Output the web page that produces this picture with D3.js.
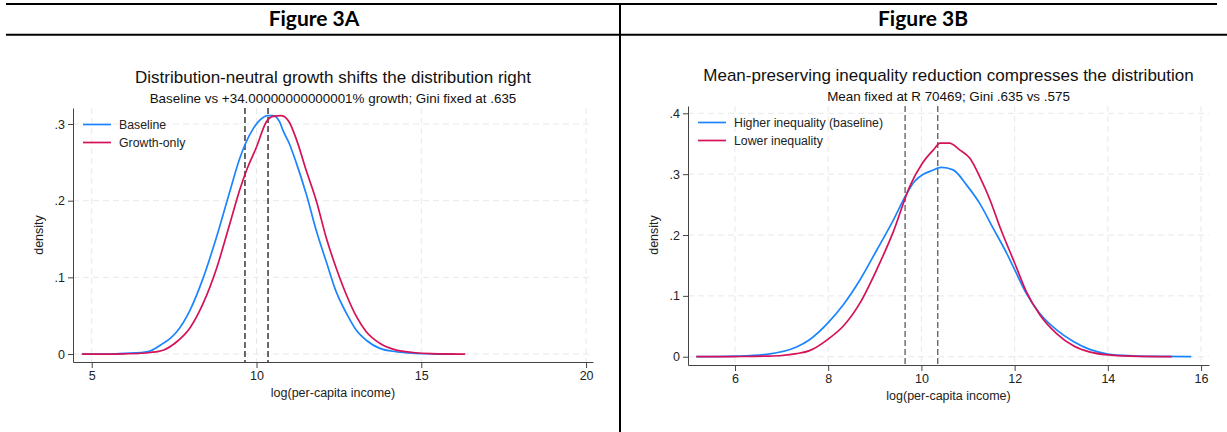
<!DOCTYPE html>
<html>
<head>
<meta charset="utf-8">
<script src="https://cdn.jsdelivr.net/npm/d3@7"></script>
<style>
  body { margin: 0; background: #fff; }
  svg { display: block; font-family: "Liberation Sans", Arial, sans-serif; }
</style>
</head>
<body>
<div id="my_dataviz"></div>
<script>
// ---- data ----
var headers = ["Figure 3A", "Figure 3B"];

var titleA = "Distribution-neutral growth shifts the distribution right";
var subtitleA = "Baseline vs +34.00000000000001% growth; Gini fixed at .635";
var titleB = "Mean-preserving inequality reduction compresses the distribution";
var subtitleB = "Mean fixed at R 70469; Gini .635 vs .575";

var xTicksA = [5, 10, 15, 20];
var yTicksA = [0, 0.1, 0.2, 0.3];
var xTicksB = [6, 8, 10, 12, 14, 16];
var yTicksB = [0, 0.1, 0.2, 0.3, 0.4];

var refLinesA = [9.65, 10.35];
var refLinesB = [9.65, 10.35];

var legendA = ["Baseline", "Growth-only"];
var legendB = ["Higher inequality (baseline)", "Lower inequality"];

// [log income, density]
var baselineA = [[4.7,0],[5.5,0],[6.0,0.001],[6.5,0.002],[6.77,0.004],[7.17,0.014],[7.4,0.021],
  [7.58,0.029],[7.98,0.057],[8.38,0.099],[8.79,0.153],[9.19,0.212],[9.49,0.255],[9.65,0.273],
  [9.9,0.294],[10.1,0.305],[10.35,0.311],[10.5,0.311],[10.71,0.302],[10.8,0.292],[11.0,0.274],
  [11.21,0.249],[11.52,0.207],[11.82,0.16],[12.12,0.12],[12.42,0.081],[12.73,0.053],[13.03,0.031],
  [13.33,0.018],[13.74,0.0074],[14.24,0.003],[14.75,0.001],[15.3,0.0003],[16.0,0]];

var growthA = [[4.7,0],[5.5,0],[6.0,0.0003],[6.5,0.001],[6.77,0.002],[7.17,0.005],[7.58,0.016],
  [7.98,0.034],[8.38,0.066],[8.79,0.112],[9.19,0.17],[9.49,0.214],[9.7,0.24],[10.0,0.27],
  [10.3,0.303],[10.5,0.31],[10.75,0.311],[11.0,0.302],[11.21,0.28],[11.52,0.238],[11.82,0.199],
  [12.12,0.151],[12.42,0.112],[12.73,0.077],[13.03,0.049],[13.33,0.029],[13.74,0.014],
  [14.24,0.005],[14.75,0.002],[15.3,0.0006],[16.33,0]];

var higherB = [[5.17,0],[5.6,0.0003],[6.0,0.001],[6.67,0.004],[7.32,0.016],[7.6,0.028],[8.0,0.056],
  [8.32,0.085],[8.68,0.126],[9.04,0.175],[9.4,0.225],[9.67,0.266],[9.85,0.288],[10.04,0.3],
  [10.2,0.305],[10.43,0.311],[10.68,0.307],[10.97,0.282],[11.25,0.252],[11.54,0.211],[11.83,0.17],
  [12.0,0.143],[12.25,0.104],[12.54,0.071],[12.9,0.044],[13.26,0.025],[13.61,0.012],[14.0,0.0045],
  [14.54,0.0015],[15.0,0.0005],[15.79,0]];

var lowerB = [[5.17,0],[6.0,0.0003],[6.67,0.001],[7.0,0.002],[7.32,0.005],[7.6,0.01],[8.0,0.029],
  [8.32,0.05],[8.68,0.088],[9.04,0.143],[9.4,0.206],[9.75,0.28],[10.02,0.318],[10.27,0.341],
  [10.4,0.351],[10.6,0.351],[10.82,0.34],[11.04,0.326],[11.25,0.296],[11.47,0.258],[11.68,0.214],
  [12.0,0.154],[12.25,0.107],[12.54,0.069],[12.9,0.038],[13.26,0.018],[13.6,0.008],[14.0,0.003],
  [14.5,0.001],[15.37,0]];

var blue = "#1a85ff", red = "#d41159";

var W = 1227, H = 432;

var svg = d3.select("#my_dataviz")
  .append("svg")
    .attr("width", W)
    .attr("height", H);

// table frame
svg.append("line").attr("x1", 6).attr("x2", 1217).attr("y1", 4).attr("y2", 4)
  .attr("stroke", "#000").attr("stroke-width", 2);
svg.append("line").attr("x1", 6).attr("x2", W).attr("y1", 34.7).attr("y2", 34.7)
  .attr("stroke", "#000").attr("stroke-width", 2);
svg.append("line").attr("x1", 620).attr("x2", 620).attr("y1", 3).attr("y2", H)
  .attr("stroke", "#000").attr("stroke-width", 2);

svg.selectAll("text.header")
  .data(headers)
  .enter()
  .append("text")
    .attr("class", "header")
    .attr("x", function(d, i) { return i == 0 ? 314 : 923; })
    .attr("y", 26)
    .attr("text-anchor", "middle")
    .style("font-family", "Lato, 'Open Sans', sans-serif")
    .style("font-weight", "bold")
    .style("font-size", "21px")
    .text(function(d) { return d; });

function panel(cfg) {
  var x = d3.scaleLinear().domain(cfg.xDomain).range([cfg.left, cfg.right]);
  var y = d3.scaleLinear().domain(cfg.yDomain).range([cfg.bottom, cfg.top]);
  var g = svg.append("g");

  // grid
  g.selectAll("line.hgrid")
    .data(cfg.yTicks)
    .enter()
    .append("line")
      .attr("x1", cfg.left).attr("x2", cfg.right)
      .attr("y1", function(d) { return y(d); })
      .attr("y2", function(d) { return y(d); })
      .attr("stroke", "#e8e8e8")
      .attr("stroke-dasharray", "6,4");
  g.selectAll("line.vgrid")
    .data(cfg.xTicks)
    .enter()
    .append("line")
      .attr("x1", function(d) { return x(d); })
      .attr("x2", function(d) { return x(d); })
      .attr("y1", cfg.top).attr("y2", cfg.bottom)
      .attr("stroke", "#e8e8e8")
      .attr("stroke-dasharray", "6,4");

  // reference lines
  g.selectAll("line.ref")
    .data(cfg.refLines)
    .enter()
    .append("line")
      .attr("x1", function(d) { return x(d); })
      .attr("x2", function(d) { return x(d); })
      .attr("y1", cfg.top).attr("y2", cfg.bottom)
      .attr("stroke", cfg.refColor)
      .attr("stroke-width", 1.4)
      .attr("stroke-dasharray", "6,3");

  var line = d3.line()
    .x(function(d) { return x(d[0]); })
    .y(function(d) { return y(d[1]); })
    .curve(d3.curveMonotoneX);

  cfg.series.forEach(function(s, i) {
    g.append("path")
      .datum(s)
      .attr("fill", "none")
      .attr("stroke", [blue, red][i])
      .attr("stroke-width", 1.7)
      .attr("d", line);
  });

  // axes
  var fmt = function(d) { return d == 0 ? "0" : d3.format(".1f")(d).replace(/^0/, ""); };
  var ax = g.append("g")
    .attr("transform", "translate(0," + cfg.bottom + ")")
    .call(d3.axisBottom(x).tickValues(cfg.xTicks).tickSize(6).tickPadding(3).tickSizeOuter(0));
  var ay = g.append("g")
    .attr("transform", "translate(" + cfg.left + ",0)")
    .call(d3.axisLeft(y).tickValues(cfg.yTicks).tickFormat(fmt).tickSize(5).tickPadding(3).tickSizeOuter(0));
  [ax, ay].forEach(function(a) {
    a.select(".domain").attr("stroke", "#444");
    a.selectAll(".tick line").attr("stroke", "#444");
    a.selectAll("text")
      .style("font-family", "'Liberation Sans', Arial, sans-serif")
      .style("font-size", "12.5px")
      .attr("fill", "#222");
  });

  var cx = (cfg.left + cfg.right) / 2;
  g.append("text")
    .attr("x", cx).attr("y", cfg.top - 25)
    .attr("text-anchor", "middle")
    .style("font-size", "17px")
    .attr("fill", "#111")
    .text(cfg.title);
  g.append("text")
    .attr("x", cx).attr("y", cfg.top - 5)
    .attr("text-anchor", "middle")
    .style("font-size", "13.4px")
    .attr("fill", "#111")
    .text(cfg.subtitle);

  g.append("text")
    .attr("x", cx).attr("y", cfg.bottom + 35)
    .attr("text-anchor", "middle")
    .style("font-size", "12.5px")
    .attr("fill", "#222")
    .text("log(per-capita income)");

  g.append("text")
    .attr("transform", "rotate(-90)")
    .attr("x", -235).attr("y", cfg.left - 30)
    .attr("text-anchor", "middle")
    .style("font-size", "12.5px")
    .attr("fill", "#222")
    .text("density");

  // legend
  var leg = g.selectAll("g.leg")
    .data(cfg.legend)
    .enter()
    .append("g")
      .attr("transform", function(d, i) {
        return "translate(" + (cfg.left + 10) + "," + (cfg.top + 16.5 + i * 18) + ")";
      });
  leg.append("line")
    .attr("x1", 0).attr("x2", 28)
    .attr("stroke", function(d, i) { return [blue, red][i]; })
    .attr("stroke-width", 1.7);
  leg.append("text")
    .attr("x", 36).attr("dy", "0.35em")
    .style("font-size", "12.3px")
    .attr("fill", "#222")
    .text(function(d) { return d; });
}

panel({
  left: 73, right: 593, top: 108, bottom: 362,
  xDomain: [4.432, 20.21], yDomain: [-0.0104, 0.3209],
  xTicks: xTicksA, yTicks: yTicksA, refLines: refLinesA, refColor: "#2a2a2a",
  series: [baselineA, growthA], legend: legendA,
  title: titleA, subtitle: subtitleA
});

panel({
  left: 688, right: 1209, top: 106, bottom: 365,
  xDomain: [4.992, 16.17], yDomain: [-0.0136, 0.412],
  xTicks: xTicksB, yTicks: yTicksB, refLines: refLinesB, refColor: "#666",
  series: [higherB, lowerB], legend: legendB,
  title: titleB, subtitle: subtitleB
});
</script>
</body>
</html>
